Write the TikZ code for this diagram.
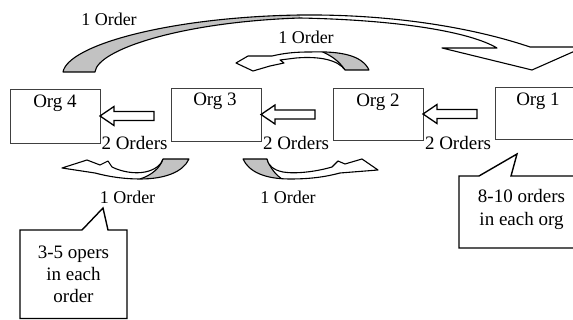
\documentclass[tikz,border=0pt]{standalone}
\usepackage{fontspec}
\setmainfont{Liberation Serif}
\begin{document}
\begin{tikzpicture}[x=1pt,y=-1pt,
  orgbox/.style={draw=black!75, line width=0.8pt, minimum width=90pt, inner sep=0pt, outer sep=0pt},
  lbl/.style={font=\fontsize{19}{22}\selectfont, anchor=base, inner sep=0pt},
  ord/.style={font=\fontsize{18}{21}\selectfont, anchor=base, inner sep=0pt},
  blockarrow/.style={draw=black, line width=1.3pt, fill=white, line join=miter},
  ribbonline/.style={draw=black, line width=1.1pt, line join=round},
  shade/.style={fill=black!24},
  callout/.style={draw=black, line width=1.4pt, fill=white, line join=miter}]
\useasboundingbox (0,0) rectangle (573,320);
\clip (0,0) rectangle (573,320);
\fill[white] (0,0) rectangle (573,320);

% organisation boxes
\node[orgbox, minimum height=54pt] (org4) at (55,116) {};
\node[orgbox, minimum height=53pt] (org3) at (216,114.5) {};
\node[orgbox, minimum height=52pt] (org2) at (378,114) {};
\node[orgbox, minimum height=52pt] (org1) at (540,113) {};
\node[lbl] (t4) at (55,107.5) {Org 4};
\node[lbl] (t3) at (215,106) {Org 3};
\node[lbl] (t2) at (378,106.5) {Org 2};
\node[lbl] (t1) at (538,106) {Org 1};

% block arrows
\draw[blockarrow] (org4.east) -- ++(14,-9.5) -- ++(0,5) -- ++(40,0) -- ++(0,9) -- ++(-40,0) -- ++(0,5) -- cycle;
\draw[blockarrow] (org3.east) -- ++(14,-9.5) -- ++(0,5) -- ++(40,0) -- ++(0,9) -- ++(-40,0) -- ++(0,5) -- cycle;
\draw[blockarrow] (org2.east) -- ++(14,-9.5) -- ++(0,5) -- ++(40,0) -- ++(0,9) -- ++(-40,0) -- ++(0,5) -- cycle;

\node[lbl] (o1) at (134.5,149.5) {2 Orders};
\node[lbl] (o2) at (296,149.5) {2 Orders};
\node[lbl] (o3) at (458,149.5) {2 Orders};

% big curved arrow (Org 4 -> Org 1)
\path[save path=\pbig] (63,72) .. controls (68,45) and (170,17) .. (300,15)
  .. controls (400,14) and (480,30) .. (530,47) -- (584,47) -- (532,70) -- (442,48) -- (497,48)
  .. controls (470,32) and (400,20) .. (300,18) .. controls (180,22) and (97,50) .. (95,72) -- cycle;
\fill[white, use path=\pbig];
\begin{scope}
  \clip[use path=\pbig];
  \fill[shade] (0,0) rectangle (300,100);
\end{scope}
\draw[ribbonline, use path=\pbig];

% top middle curved arrow
\path[save path=\ptwo] (369,70) .. controls (362,55) and (340,51) .. (310,52)
  .. controls (295,52) and (285,53) .. (272,56) -- (248,56) -- (236,63) -- (253,71) -- (270,66)
  -- (284,63) -- (280,60) -- (296,58) .. controls (320,56) and (338,60) .. (345,70) -- cycle;
\fill[white, use path=\ptwo];
\begin{scope}
  \clip[use path=\ptwo];
  \fill[shade] (345,72) .. controls (339,61) and (331,55) .. (318,49) -- (380,40) -- (380,80) -- cycle;
  \draw[ribbonline] (345,70) .. controls (339,61) and (331,55) .. (318,50);
\end{scope}
\draw[ribbonline, use path=\ptwo];

% bottom left curved arrow
\path[save path=\pthree] (163,159) -- (189,159) .. controls (183,172) and (165,179) .. (140,179)
  .. controls (125,179) and (110,177) .. (95,173) -- (62,168) -- (87,160) -- (100,165) -- (108,161)
  -- (112,167) .. controls (122,172) and (135,174) .. (145,172) .. controls (155,170) and (161,165) .. (163,159) -- cycle;
\fill[white, use path=\pthree];
\begin{scope}
  \clip[use path=\pthree];
  \fill[shade] (163,157) .. controls (160,168) and (152,175) .. (138,181) -- (200,190) -- (200,150) -- cycle;
  \draw[ribbonline] (163,159) .. controls (160,168) and (152,175) .. (140,179);
\end{scope}
\draw[ribbonline, use path=\pthree];

% bottom middle curved arrow
\path[save path=\pfour] (267,159) -- (243,159) .. controls (249,172) and (265,179) .. (290,179)
  .. controls (310,179) and (325,177) .. (340,173) -- (378,170) -- (362,159) -- (345,164) -- (338,161)
  -- (332,167) .. controls (315,172) and (295,174) .. (283,172) .. controls (273,170) and (268,165) .. (267,159) -- cycle;
\fill[white, use path=\pfour];
\begin{scope}
  \clip[use path=\pfour];
  \fill[shade] (267,157) .. controls (270,168) and (276,175) .. (284,181) -- (230,190) -- (230,150) -- cycle;
  \draw[ribbonline] (267,159) .. controls (270,168) and (276,175) .. (282,179);
\end{scope}
\draw[ribbonline, use path=\pfour];

\node[ord] (a1) at (109,25.5) {1 Order};
\node[ord] (a2) at (306,44) {1 Order};
\node[ord] (a3) at (127.5,203.5) {1 Order};
\node[ord] (a4) at (288,203.5) {1 Order};

% callouts
\draw[callout] (20,230) -- (82,230) -- (103,208) -- (108,230) -- (127,230) -- (127,318.5) -- (20,318.5) -- cycle;
\node[lbl] (c1a) at (73.5,259) {3-5 opers};
\node[lbl] (c1b) at (73.5,281) {in each};
\node[lbl] (c1c) at (73.5,303) {order};

\draw[callout] (459,176) -- (479,176) -- (517,154) -- (511,176) -- (590,176) -- (590,248) -- (459,248) -- cycle;
\node[lbl] (c2a) at (521.5,202.5) {8-10 orders};
\node[lbl] (c2b) at (521.5,225.5) {in each org};
\end{tikzpicture}
\end{document}
